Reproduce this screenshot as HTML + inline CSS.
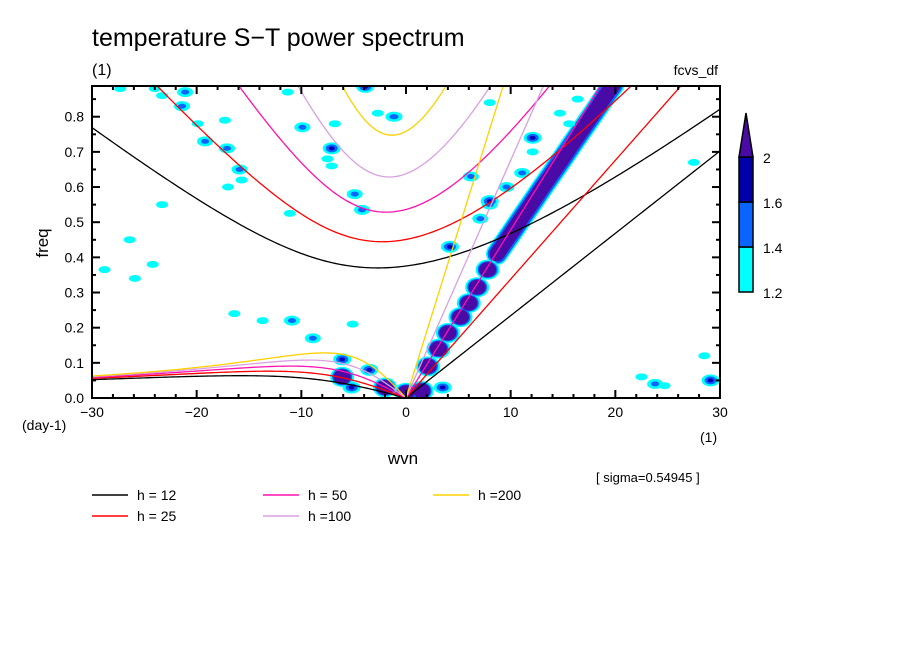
<!DOCTYPE html>
<html><head><meta charset="utf-8"><style>
body{margin:0;background:#fff;}
svg text{font-family:"Liberation Sans",sans-serif;fill:#000;}
</style></head><body>
<svg id="chart" width="904" height="654" viewBox="0 0 904 654" xmlns="http://www.w3.org/2000/svg">
<text x="92" y="46" font-size="25">temperature S−T power spectrum</text>
<text x="92" y="75" font-size="16">(1)</text>
<text x="718" y="75" font-size="14" text-anchor="end">fcvs_df</text>
<defs><clipPath id="pc"><rect x="92" y="86" width="628" height="312"/></clipPath></defs>
<g id="blobs" clip-path="url(#pc)"></g>
<g id="curves" clip-path="url(#pc)"></g>
<rect x="92" y="86" width="628" height="312" fill="none" stroke="#000" stroke-width="2"/>
<g id="ticks"></g>
<text x="403" y="464" font-size="17" text-anchor="middle">wvn</text>
<text x="48" y="243" font-size="17" text-anchor="middle" transform="rotate(-90 48 243)">freq</text>
<text x="22" y="430" font-size="14">(day-1)</text>
<text x="700" y="442" font-size="14">(1)</text>
<text x="596" y="482" font-size="13">[ sigma=0.54945 ]</text>
<g id="colorbar"></g>
<g id="legend"></g>
</svg>
<script>
// ---- data ----
const depths = [12, 25, 50, 100, 200];
const depthColors = ["#000000", "#ff0000", "#ff10b0", "#d8a0e0", "#ffd000"];
const depthLabels = ["h = 12", "h = 25", "h = 50", "h =100", "h =200"];
const xTicks = [-30, -20, -10, 0, 10, 20, 30];
const yTicks = [0, 0.1, 0.2, 0.3, 0.4, 0.5, 0.6, 0.7, 0.8];
const yTickLabels = ["0.0", "0.1", "0.2", "0.3", "0.4", "0.5", "0.6", "0.7", "0.8"];
const cbLevels = ["1.2", "1.4", "1.6", "2"];
const bandWvn = [8.7, 10, 11, 12, 13, 14, 15, 16, 17, 18, 19, 19.8];
const bandFreq = [0.41, 0.466, 0.51, 0.553, 0.597, 0.64, 0.683, 0.727, 0.77, 0.813, 0.857, 0.89];
const blobWvn = [2.1,3.1,4.0,5.2,6.0,6.8,7.8,
 -21.1,-23.3,-21.4,-17.3,-19.9,-19.2,-17.1,-15.9,-15.7,-17.0,-23.3,-25.9,-28.8,-11.1,-11.3,-9.9,-7.1,-7.5,-7.1,-4.9,-4.2,-1.1,-2.7,-3.9,-6.8,-27.3,-24,
 28.5,23.8,29.1,24.7,
 -8.9,-13.7,-10.9,-5.1,-16.4,
 -6.1,-6.1,-5.2,-2,0,1.5,3.5,-3.5,
 12.1,12.1,14.7,11.1,9.6,8.0,8.0,-1.2,6.2,15.6,16.4,7.1,4.2,8.0,-24.2,-26.4,22.5,27.5];
const blobFreq = [0.09,0.14,0.185,0.23,0.27,0.315,0.365,
 0.87,0.86,0.83,0.79,0.78,0.73,0.71,0.65,0.62,0.60,0.55,0.34,0.365,0.525,0.87,0.77,0.71,0.68,0.66,0.58,0.535,0.80,0.81,0.885,0.78,0.88,0.88,
 0.12,0.04,0.05,0.035,
 0.17,0.22,0.22,0.21,0.24,
 0.06,0.11,0.03,0.03,0.015,0.02,0.03,0.08,
 0.74,0.70,0.81,0.64,0.60,0.55,0.84,0.80,0.63,0.78,0.85,0.51,0.43,0.56,0.38,0.45,0.06,0.67];
const blobLevel = [4,4,4,4,4,4,4,
 2,1,2,1,1,2,2,2,1,1,1,1,1,1,1,2,3,1,1,2,2,2,1,3,1,1,1,
 1,2,3,1,
 2,1,2,1,1,
 4,3,3,4,4,4,3,3,
 3,1,1,2,2,2,1,2,2,1,1,2,3,3,1,1,1,1];

// ---- axes ----
const NS = "http://www.w3.org/2000/svg";
const X = k => 406 + k * (628 / 60);
const Y = f => 398 - f * 351.6;
function mk(tag, attrs, parent) {
  const e = document.createElementNS(NS, tag);
  for (const a in attrs) e.setAttribute(a, attrs[a]);
  parent.appendChild(e);
  return e;
}
// ---- blobs ----
const gB = document.getElementById("blobs");
const sizes = {1:[[6,3.5,"#00ffff"]],2:[[8,5,"#00ffff"],[4,2.5,"#0a64ff"]],3:[[9,6,"#00ffff"],[6,4,"#0a64ff"],[3,2,"#0000b4"]],4:[[12,10,"#00ffff"],[10,8.5,"#0a64ff"],[8.5,7.5,"#4a0aa5"]]};
for (let L = 1; L <= 4; L++) {
  if (L === 4) {
    const pts = bandWvn.map((k, i) => X(k) + "," + Y(bandFreq[i])).join(" ");
    [["#00ffff", 22], ["#0a64ff", 19], ["#4a0aa5", 15]].forEach(s => {
      const pl = mk("polyline", {points: pts, fill: "none", stroke: s[0], "stroke-width": s[1], "stroke-linecap": "round", "stroke-linejoin": "round"}, gB);
      
      
    });
  }
}
sizes[4].forEach((s, li) => {
  blobWvn.forEach((k, i) => {
    const L = blobLevel[i];
    sizes[L].forEach((ss, j) => {
      if (j !== li && !(li === 0 && j === 0)) return;
      if (j !== li) return;
      const e = mk("ellipse", {cx: X(k), cy: Y(blobFreq[i]), rx: ss[0], ry: ss[1], fill: ss[2]}, gB);
      
      
    });
  });
});
// ---- dispersion curves ----
const gC = document.getElementById("curves");
const a = 6.371e6, beta = 2 * 7.292e-5 / a, g = 9.81, toCpd = 86400 / (2 * Math.PI);
function solve(c, kk, w) {
  for (let it = 0; it < 60; it++) {
    const f = w * w * w - c * c * (kk * kk + 3 * beta / c) * w - beta * c * c * kk;
    const d = 3 * w * w - c * c * (kk * kk + 3 * beta / c);
    w -= f / d;
  }
  return w;
}
depths.forEach((h, i) => {
  const c = Math.sqrt(g * h);
  const col = depthColors[i];
  let gp = [], rp = [], kp = [];
  for (let s = -30; s <= 30.001; s += 0.25) {
    const kk = s / a;
    gp.push(X(s) + "," + Y(solve(c, kk, Math.sqrt(c * c * kk * kk + 3 * beta * c) * 1.05) * toCpd));
    if (s <= 0) rp.push(X(s) + "," + Y(solve(c, kk, -beta * kk / (kk * kk + 3 * beta / c)) * toCpd));
    if (s >= 0) kp.push(X(s) + "," + Y(c * kk * toCpd));
  }
  [["gravity", gp], ["rossby", rp], ["kelvin", kp]].forEach(p => {
    const pl = mk("polyline", {points: p[1].join(" "), fill: "none", stroke: col, "stroke-width": 1.3}, gC);
    
    
  });
});
// ---- ticks ----
const gT = document.getElementById("ticks");
for (let s = -30; s <= 30; s += 2) {
  const major = s % 10 === 0, len = major ? 8 : 4;
  mk("line", {x1: X(s), x2: X(s), y1: 398, y2: 398 - len, stroke: "#000", "stroke-width": 2}, gT);
  mk("line", {x1: X(s), x2: X(s), y1: 86, y2: 86 + len, stroke: "#000", "stroke-width": 2}, gT);
}
for (let q = 0; q <= 17; q++) {
  const f = q * 0.05, len = q % 2 === 0 ? 8 : 4;
  mk("line", {x1: 92, x2: 92 + len, y1: Y(f), y2: Y(f), stroke: "#000", "stroke-width": 2}, gT);
  mk("line", {x1: 720, x2: 720 - len, y1: Y(f), y2: Y(f), stroke: "#000", "stroke-width": 2}, gT);
}
xTicks.forEach(v => {
  const t = mk("text", {x: X(v), y: 417, "font-size": 14, "text-anchor": "middle"}, gT);
  t.textContent = v < 0 ? "−" + (-v) : String(v);
  
  
});
yTicks.forEach((v, i) => {
  const t = mk("text", {x: 84, y: Y(v) + 5, "font-size": 14, "text-anchor": "end"}, gT);
  t.textContent = yTickLabels[i];
  
  
});
// ---- colorbar ----
const gCb = document.getElementById("colorbar");
const cbCols = ["#00ffff", "#0a64ff", "#0000a8"];
const cbY = [292, 247, 202, 157];
cbCols.forEach((c, i) => {
  const r = mk("rect", {x: 739, y: cbY[i + 1], width: 14, height: cbY[i] - cbY[i + 1], fill: c, stroke: "#000", "stroke-width": 1.5}, gCb);
  
  
});
const tri = mk("polygon", {points: "739,157 753,157 746,113", fill: "#4a0aa5", stroke: "#000", "stroke-width": 1.5}, gCb);


cbLevels.forEach((l, i) => {
  const t = mk("text", {x: 763, y: cbY[i] + 6, "font-size": 14}, gCb);
  t.textContent = l;
  
  
});
// ---- legend ----
const gL = document.getElementById("legend");
const legX = [92, 92, 263, 263, 433], legY = [495, 516, 495, 516, 495];
depths.forEach((h, i) => {
  const ln = mk("line", {x1: legX[i], x2: legX[i] + 36, y1: legY[i], y2: legY[i], stroke: depthColors[i], "stroke-width": 1.5}, gL);
  
  
  const t = mk("text", {x: legX[i] + 45, y: legY[i] + 5, "font-size": 14}, gL);
  t.textContent = depthLabels[i];
  
  
});
</script>
</body></html>
